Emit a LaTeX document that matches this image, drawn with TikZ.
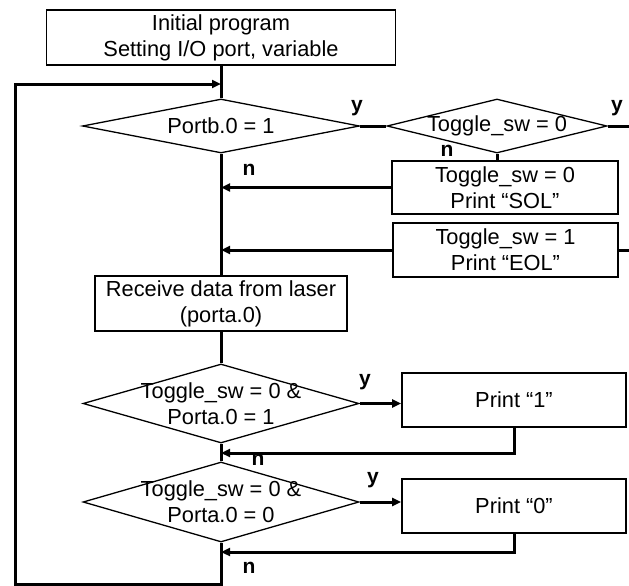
\documentclass[tikz,border=0pt]{standalone}
\usepackage{fontspec}
\setmainfont{Liberation Sans}
\usetikzlibrary{shapes.geometric}
\usetikzlibrary{arrows.meta}

\begin{document}
\begin{tikzpicture}[x=1pt, y=-1pt,
    every node/.style={font=\fontsize{21.8}{26}\selectfont},
    box/.style={rectangle, draw=black, line width=1.6pt, align=center, inner sep=0pt},
    test/.style={diamond, draw=black, line width=1.3pt, inner sep=0pt, minimum width=#1},
    flow/.style={line width=3pt},
    arr/.style={flow, -{Triangle[length=9pt,width=8pt]}},
    yn/.style={font=\fontsize{21}{21}\selectfont\bfseries, inner sep=0pt}]
    \useasboundingbox (0,0) rectangle (629,586);

    % boxes
    \node[box, minimum width=349pt, minimum height=55pt] (init) at (221,37.5) {Initial program\\Setting I/O port, variable};
    \node[box, minimum width=226pt, minimum height=53pt] (sol) at (505,187.5) {Toggle\_sw = 0\\Print “SOL”};
    \node[box, minimum width=225pt, minimum height=54pt] (eol) at (505.5,250) {Toggle\_sw = 1\\Print “EOL”};
    \node[box, minimum width=252pt, minimum height=55pt] (recv) at (221,303.5) {Receive data from laser\\(porta.0)};
    \node[box, minimum width=224pt, minimum height=54pt] (prt1) at (514,400) {Print “1”};
    \node[box, minimum width=224pt, minimum height=54pt] (prt0) at (514,506) {Print “0”};

    % decisions
    \node[test=277pt, minimum height=54pt, label={center:Portb.0 = 1}] (portb) at (221,126) {};
    \node[test=220pt, minimum height=54pt, label={center:Toggle\_sw = 0}] (toggle) at (497,126) {};
    \node[test=276pt, minimum height=79pt, label={[align=center]center:Toggle\_sw = 0 \&\\Porta.0 = 1}] (chk1) at (221,403.5) {};
    \node[test=276pt, minimum height=80pt, label={[align=center]center:Toggle\_sw = 0 \&\\Porta.0 = 0}] (chk0) at (221,502) {};

    % turning points
    \coordinate (lpT) at (15,84);
    \coordinate (lpB) at (15,584);
    \coordinate (edgeT) at (629,126);
    \coordinate (edgeE) at (629,250);
    \coordinate (ret1) at (221,453);
    \coordinate (ret0) at (221,552);

    % connectors
    \draw[flow] (init.south) -- (portb.north);
    \draw[arr] (chk0.south) |- (lpB) -- (lpT) -- (init.south |- lpT);
    \draw[flow] (portb.east) -- (toggle.west);
    \draw[flow] (toggle.east) -- (edgeT);
    \draw[flow] (toggle.south) -- (toggle.south |- sol.north);
    \draw[arr] (sol.west) -- (portb.south |- sol.west);
    \draw[arr] (eol.west) -- (portb.south |- eol.west);
    \draw[flow] (eol.east) -- (edgeE);
    \draw[flow] (portb.south) -- (recv.north);
    \draw[flow] (recv.south) -- (chk1.north);
    \draw[arr] (chk1.east) -- (chk1.east -| prt1.west);
    \draw[arr] (prt1.south) |- (ret1);
    \draw[flow] (chk1.south) -- (chk0.north);
    \draw[arr] (chk0.east) -- (chk0.east -| prt0.west);
    \draw[arr] (prt0.south) |- (ret0);

    % branch labels
    \node[yn] (y1) at (357,108) {y};
    \node[yn] (y2) at (617,108) {y};
    \node[yn] (n1) at (447,151) {n};
    \node[yn] (n2) at (249,170) {n};
    \node[yn] (y3) at (365,382) {y};
    \node[yn] (n3) at (258,460) {n};
    \node[yn] (y4) at (373,480) {y};
    \node[yn] (n4) at (249,568) {n};
\end{tikzpicture}
\end{document}
